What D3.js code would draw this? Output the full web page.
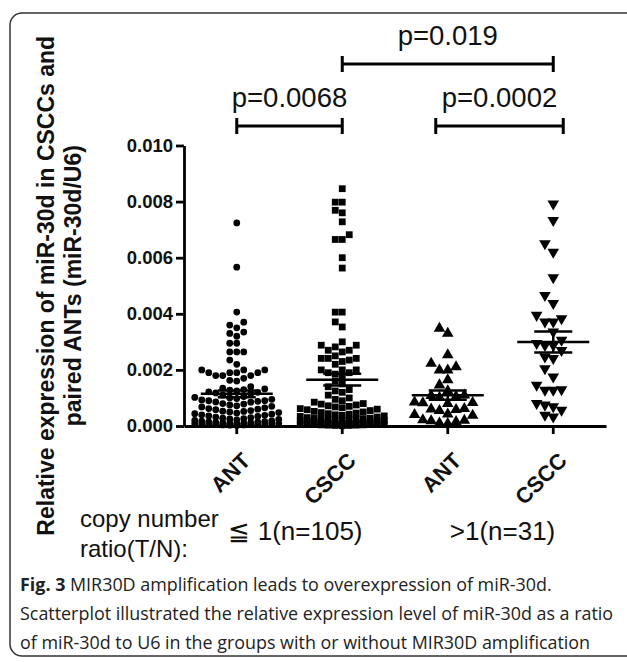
<!DOCTYPE html>
<html>
<head>
<meta charset="utf-8">
<script src="https://cdn.jsdelivr.net/npm/d3@7"></script>
<style>
  body { margin: 0; background: #fff; }
  svg { display: block; }
  .chart text { font-family: "Liberation Sans", Arial, sans-serif; fill: #111; }
  .caption text { font-family: "Open Sans", sans-serif; fill: #222; }
</style>
</head>
<body>
<script>
// column labels and group values (miR-30d / U6)
var groupLabels = ["ANT", "CSCC", "ANT", "CSCC"];
var ratioLabels = ["\u2266 1(n=105)", ">1(n=31)"];
var pLabels = ["p=0.0068", "p=0.0002", "p=0.019"];
var yTicks = [0, 0.002, 0.004, 0.006, 0.008, 0.010];

// copy number ratio <= 1
var antLow = [0.00724, 0.00566, 0.00406, 0.00370, 0.00360, 0.00350, 0.00335, 0.00330, 0.00320, 0.00295,
  0.00295, 0.00264, 0.00264, 0.00264, 0.00235, 0.00220, 0.00200, 0.00200, 0.00200, 0.00190,
  0.00190, 0.00190, 0.00190, 0.00180, 0.00180, 0.00180, 0.00170, 0.00163, 0.00160,
  0.00140, 0.00135, 0.00132, 0.00130, 0.00128, 0.00125, 0.00122, 0.00120, 0.00118, 0.00115,
  0.00110, 0.00105, 0.00102, 0.00100, 0.00098, 0.00095, 0.00093, 0.00090, 0.00090, 0.00088, 0.00086, 0.00085,
  0.00080, 0.00078, 0.00075, 0.00072, 0.00070, 0.00068, 0.00065, 0.00062, 0.00060, 0.00058, 0.00055, 0.00053, 0.00052, 0.00050,
  0.00048, 0.00046, 0.00044, 0.00042, 0.00040, 0.00038, 0.00036, 0.00034, 0.00032, 0.00030, 0.00028, 0.00026, 0.00025, 0.00024, 0.00022, 0.00020,
  0.00018, 0.00017, 0.00016, 0.00015, 0.00014, 0.00013, 0.00012, 0.00011, 0.00010, 0.00010, 0.00009, 0.00009,
  0.00008, 0.00008, 0.00007, 0.00007, 0.00006, 0.00006, 0.00005, 0.00005, 0.00004, 0.00004, 0.00003, 0.00002];

var csccLow = [0.00846, 0.00798, 0.00798, 0.00769, 0.00760, 0.00728, 0.00682, 0.00665, 0.00665, 0.00600,
  0.00563, 0.00406, 0.00406, 0.00371, 0.00353, 0.00300, 0.00288, 0.00288, 0.00282, 0.00270,
  0.00270, 0.00264, 0.00250, 0.00241, 0.00241, 0.00241, 0.00235, 0.00230, 0.00220, 0.00200, 0.00200, 0.00200,
  0.00190, 0.00190, 0.00185, 0.00175, 0.00160,
  0.00150, 0.00140, 0.00130, 0.00125, 0.00120,
  0.00110, 0.00100, 0.00095, 0.00090, 0.00085, 0.00080, 0.00078, 0.00075, 0.00072, 0.00070,
  0.00068, 0.00065, 0.00062, 0.00060, 0.00058, 0.00055, 0.00052, 0.00050, 0.00048, 0.00046,
  0.00044, 0.00042, 0.00040, 0.00038, 0.00036, 0.00034, 0.00032, 0.00030,
  0.00028, 0.00027, 0.00026, 0.00025, 0.00024, 0.00023, 0.00022, 0.00021, 0.00020, 0.00019,
  0.00018, 0.00017, 0.00016, 0.00015, 0.00014, 0.00013, 0.00012, 0.00011, 0.00010, 0.00009,
  0.00008, 0.00008, 0.00007, 0.00007, 0.00006, 0.00006, 0.00005, 0.00005, 0.00004, 0.00004,
  0.00003, 0.00003, 0.00002, 0.00002, 0.00001];

// copy number ratio > 1
var antHigh = [0.00348, 0.00330, 0.00253, 0.00223, 0.00211, 0.00199, 0.00199, 0.00164, 0.00146, 0.00125,
  0.00110, 0.00108, 0.00105, 0.00102, 0.00085, 0.00083, 0.00082, 0.00080, 0.00062, 0.00060,
  0.00058, 0.00055, 0.00042, 0.00040, 0.00038, 0.00022, 0.00020, 0.00018, 0.00015, 0.00010, 0.00008];

var csccHigh = [0.00792, 0.00733, 0.00650, 0.00620, 0.00529, 0.00466, 0.00437, 0.00395, 0.00383, 0.00371,
  0.00371, 0.00336, 0.00306, 0.00295, 0.00288, 0.00288, 0.00270, 0.00247, 0.00241, 0.00205,
  0.00175, 0.00146, 0.00130, 0.00128, 0.00128, 0.00081, 0.00075, 0.00069, 0.00057, 0.00039, 0.00033];

var groups = [
  {id: "g0", values: antLow, symbol: d3.symbolCircle, size: 36, rot: 0, step: 7, minDy: 7, slots: 6},
  {id: "g1", values: csccLow, symbol: d3.symbolSquare, size: 46, rot: 0, step: 7, minDy: 7, slots: 6},
  {id: "g2", values: antHigh, symbol: d3.symbolTriangle, size: 58, rot: 0, step: 8.3, minDy: 9, slots: 4},
  {id: "g3", values: csccHigh, symbol: d3.symbolTriangle, size: 58, rot: 180, step: 8.3, minDy: 9, slots: 4}
];

var width = 627, height = 662;

var svg = d3.select("body").append("svg")
    .attr("width", width)
    .attr("height", height);

// frame
svg.append("rect")
    .attr("x", 10).attr("y", 13)
    .attr("width", 660).attr("height", 643)
    .attr("rx", 12)
    .attr("fill", "none")
    .attr("stroke", "#333")
    .attr("stroke-width", 1.5);

var chart = svg.append("g").attr("class", "chart");

var x = d3.scaleBand()
    .domain(groups.map(d => d.id))
    .range([184, 606]);

var y = d3.scaleLinear()
    .domain([0, 0.010])
    .range([426, 145.5]);

function cx(id) { return x(id) + x.bandwidth() / 2; }

// column scatter layout: put each point in the nearest free slot
function swarm(g) {
    var order = [0];
    for (var k = 1; k <= g.slots; k++) order.push(-k, k);
    var placed = [];
    var pts = g.values.map(v => ({v: v, py: y(v)})).sort((a, b) => a.v - b.v);
    pts.forEach(function(p) {
        var chosen = null, bestGap = -1, bestSlot = 0;
        for (var i = 0; i < order.length; i++) {
            var s = order[i];
            var same = placed.filter(q => q.slot === s);
            var gap = same.length ? d3.min(same, q => Math.abs(q.py - p.py)) : Infinity;
            if (gap >= g.minDy) { chosen = s; break; }
            if (gap > bestGap) { bestGap = gap; bestSlot = s; }
        }
        p.slot = chosen === null ? bestSlot : chosen;
        p.px = cx(g.id) + p.slot * g.step;
        placed.push(p);
    });
    return pts;
}

groups.forEach(function(g) {
    var sym = d3.symbol().type(g.symbol).size(g.size);
    chart.append("g")
        .selectAll("path")
        .data(swarm(g))
        .enter().append("path")
        .attr("d", sym)
        .attr("transform", d => "translate(" + d.px + "," + d.py + ") rotate(" + g.rot + ")")
        .attr("fill", "#000");

    // mean and SEM
    var m = d3.mean(g.values);
    var sem = d3.deviation(g.values) / Math.sqrt(g.values.length);
    var c = cx(g.id);
    var lg = chart.append("g").attr("stroke", "#000").attr("stroke-width", 2.5);
    lg.append("line").attr("x1", c - 36).attr("x2", c + 36).attr("y1", y(m)).attr("y2", y(m));
    lg.append("line").attr("x1", c).attr("x2", c).attr("y1", y(m - sem)).attr("y2", y(m + sem));
    [m - sem, m + sem].forEach(function(v) {
        lg.append("line").attr("x1", c - 19).attr("x2", c + 19).attr("y1", y(v)).attr("y2", y(v));
    });
});

// axes
var yAxis = chart.append("g")
    .attr("transform", "translate(184,0)")
    .call(d3.axisLeft(y).tickValues(yTicks).tickFormat(d3.format(".3f")).tickSize(8).tickSizeOuter(0));
yAxis.selectAll("path, line").attr("stroke", "#000").attr("stroke-width", 2.8);
yAxis.selectAll("text").style("font-size", "18.5px").style("font-weight", "bold").attr("fill", "#111");

var xAxis = chart.append("g")
    .attr("transform", "translate(0,426)")
    .call(d3.axisBottom(x).tickSize(8).tickSizeOuter(0).tickFormat(""));
xAxis.selectAll("path, line").attr("stroke", "#000").attr("stroke-width", 2.8);

chart.append("g")
    .selectAll("text")
    .data(groups)
    .enter().append("text")
    .attr("transform", d => "translate(" + (cx(d.id) + 15) + ",462) rotate(-45)")
    .attr("text-anchor", "end")
    .style("font-size", "22px")
    .style("font-weight", "bold")
    .text((d, i) => groupLabels[i]);

// y title, centred on the axis
var yMid = (y(0) + y(0.010)) / 2;
var title = chart.append("g").style("font-size", "23px").style("font-weight", "bold");
title.append("text")
    .attr("transform", "translate(54," + yMid + ") rotate(-90)")
    .attr("text-anchor", "middle")
    .text("Relative expression of miR-30d in CSCCs and");
title.append("text")
    .attr("transform", "translate(81," + yMid + ") rotate(-90)")
    .attr("text-anchor", "middle")
    .text("paired ANTs (miR-30d/U6)");

// significance brackets
var brackets = [
    {a: 0, b: 1, y: 126, padL: 0, padR: 0},
    {a: 2, b: 3, y: 126, padL: 12, padR: 10},
    {a: 1, b: 3, y: 64, padL: 0, padR: 0}
];
brackets.forEach(function(br, i) {
    var x1 = cx(groups[br.a].id) - br.padL, x2 = cx(groups[br.b].id) + br.padR;
    var bg = chart.append("g").attr("stroke", "#000").attr("stroke-width", 3);
    bg.append("line").attr("x1", x1).attr("x2", x2).attr("y1", br.y).attr("y2", br.y);
    bg.append("line").attr("x1", x1).attr("x2", x1).attr("y1", br.y - 8).attr("y2", br.y + 8);
    bg.append("line").attr("x1", x2).attr("x2", x2).attr("y1", br.y - 8).attr("y2", br.y + 8);
    chart.append("text")
        .attr("x", (x1 + x2) / 2)
        .attr("y", br.y - 19)
        .attr("text-anchor", "middle")
        .style("font-size", "27.5px")
        .text(pLabels[i]);
});

// copy number ratio row
var lab = chart.append("g");
lab.append("text").attr("x", 80).attr("y", 527).style("font-size", "24px").text("copy number");
lab.append("text").attr("x", 80).attr("y", 557).style("font-size", "24px").text("ratio(T/N):");
lab.selectAll(".ratio")
    .data(ratioLabels)
    .enter().append("text")
    .attr("class", "ratio")
    .attr("x", (d, i) => (cx(groups[i * 2].id) + cx(groups[i * 2 + 1].id)) / 2 + (i === 0 ? 6 : 2))
    .attr("y", 540)
    .attr("text-anchor", "middle")
    .style("font-size", "26px")
    .text(d => d);

// caption
var cap = svg.append("g").attr("class", "caption").style("font-size", "17.9px");
var l1 = cap.append("text").attr("x", 20).attr("y", 591);
l1.append("tspan").style("font-weight", "bold").text("Fig. 3");
l1.append("tspan").text(" MIR30D amplification leads to overexpression of miR-30d.");
cap.append("text").attr("x", 20).attr("y", 620)
    .text("Scatterplot illustrated the relative expression level of miR-30d as a ratio");
cap.append("text").attr("x", 20).attr("y", 649)
    .text("of miR-30d to U6 in the groups with or without MIR30D amplification");
</script>
</body>
</html>
